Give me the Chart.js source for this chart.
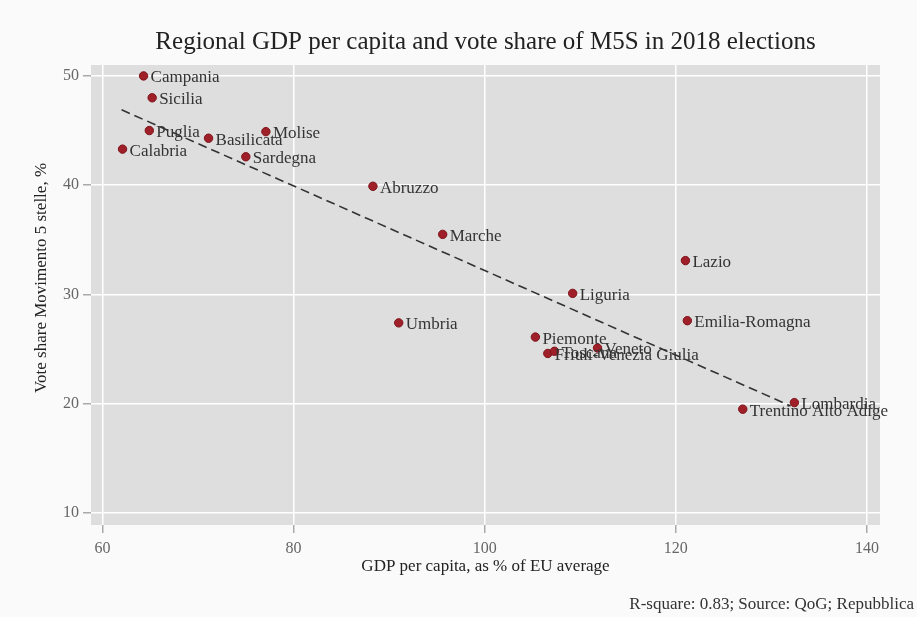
<!DOCTYPE html>
<html lang="en">
<head>
  <meta charset="UTF-8">
  <title>Regional GDP per capita and vote share of M5S</title>
  <script src="https://cdn.jsdelivr.net/npm/chart.js"></script>
  <style>
    html, body { margin: 0; padding: 0; background: #fafafa; }
    .chart-container { width: 917px; height: 617px; }
  </style>
</head>
<body>
  <div class="chart-container">
    <canvas id="scatterChart"></canvas>
  </div>

  <script>
    // data
    const regions = ['Campania', 'Sicilia', 'Puglia', 'Calabria', 'Basilicata', 'Molise', 'Sardegna',
      'Abruzzo', 'Marche', 'Umbria', 'Lazio', 'Liguria', 'Emilia-Romagna', 'Piemonte',
      'Friuli-Venezia Giulia', 'Toscana', 'Veneto', 'Lombardia', 'Trentino Alto Adige'];
    const gdp = [64.3, 65.2, 64.9, 62.1, 71.1, 77.1, 75.0,
      88.3, 95.6, 91.0, 121.0, 109.2, 121.2, 105.3,
      106.6, 107.3, 111.8, 132.4, 127.0];
    const voteShare = [50.0, 48.0, 45.0, 43.3, 44.3, 44.9, 42.6,
      39.9, 35.5, 27.4, 33.1, 30.1, 27.6, 26.1,
      24.6, 24.8, 25.1, 20.1, 19.5];
    // fitted line end points
    const trendX = [62.0, 132.0];
    const trendY = [46.9, 19.8];
    const xTicks = [60, 80, 100, 120, 140];
    const yTicks = [10, 20, 30, 40, 50];

    const serif = "'Liberation Serif', 'DejaVu Serif', serif";

    const plotBackground = {
      id: 'plotBackground',
      beforeDraw(chart) {
        const { ctx, chartArea } = chart;
        ctx.save();
        ctx.fillStyle = '#dedede';
        ctx.fillRect(chartArea.left, chartArea.top, chartArea.right - chartArea.left, chartArea.bottom - chartArea.top);
        ctx.restore();
      }
    };

    const pointLabels = {
      id: 'pointLabels',
      afterDatasetsDraw(chart) {
        const { ctx } = chart;
        const meta = chart.getDatasetMeta(1);
        ctx.save();
        ctx.font = '17px ' + serif;
        ctx.fillStyle = '#333';
        ctx.textBaseline = 'middle';
        meta.data.forEach((pt, i) => {
          ctx.fillText(regions[i], pt.x + 7, pt.y + 2);
        });
        ctx.restore();
      }
    };

    const texts = {
      id: 'texts',
      afterDraw(chart) {
        const { ctx, chartArea } = chart;
        ctx.save();
        ctx.fillStyle = '#222';
        ctx.textAlign = 'center';
        ctx.textBaseline = 'middle';
        ctx.font = '25px ' + serif;
        ctx.fillText('Regional GDP per capita and vote share of M5S in 2018 elections', (chartArea.left + chartArea.right) / 2, 42);

        // y axis title
        ctx.save();
        ctx.translate(42, 278);
        ctx.rotate(-Math.PI / 2);
        ctx.font = '17px ' + serif;
        ctx.fillText('Vote share Movimento 5 stelle, %', 0, 0);
        ctx.restore();

        ctx.font = '17px ' + serif;
        ctx.textAlign = 'right';
        ctx.fillStyle = '#333';
        ctx.fillText('R-square: 0.83; Source: QoG; Repubblica', 914, 605);
        ctx.restore();
      }
    };

    const points = gdp.map((x, i) => ({ x: x, y: voteShare[i] }));
    const trend = trendX.map((x, i) => ({ x: x, y: trendY[i] }));

    const ctx = document.getElementById('scatterChart').getContext('2d');
    const chart = new Chart(ctx, {
      type: 'scatter',
      data: {
        datasets: [{
          type: 'line',
          data: trend,
          borderColor: '#333',
          borderWidth: 1.6,
          borderDash: [9, 5],
          pointRadius: 0,
          fill: false
        }, {
          data: points,
          backgroundColor: '#a0202a',
          borderColor: '#7d1218',
          borderWidth: 1,
          pointRadius: 4.2
        }]
      },
      options: {
        responsive: true,
        maintainAspectRatio: false,
        animation: false,
        layout: { padding: { top: 65, right: 37, bottom: 40, left: 0 } },
        plugins: {
          legend: { display: false },
          tooltip: { enabled: false }
        },
        scales: {
          x: {
            type: 'linear',
            min: 58.8,
            max: 141.36,
            afterFit(scale) { scale.height = 52; },
            afterBuildTicks(scale) { scale.ticks = xTicks.map(v => ({ value: v })); },
            grid: { color: '#ffffff', lineWidth: 1.5, tickColor: '#aaa', tickLength: 8 },
            border: { display: false },
            ticks: { color: '#666', font: { family: serif, size: 16 }, padding: 6 },
            title: {
              display: true,
              text: 'GDP per capita, as % of EU average',
              color: '#222',
              font: { family: serif, size: 17 },
              padding: { top: 0, bottom: 0 }
            }
          },
          y: {
            type: 'linear',
            min: 8.9,
            max: 51.0,
            afterFit(scale) { scale.width = 91; },
            afterBuildTicks(scale) { scale.ticks = yTicks.map(v => ({ value: v })); },
            grid: { color: '#ffffff', lineWidth: 1.5, tickColor: '#aaa', tickLength: 8 },
            border: { display: false },
            ticks: { color: '#666', font: { family: serif, size: 16 }, padding: 4 }
          }
        }
      },
      plugins: [plotBackground, pointLabels, texts]
    });
  </script>
</body>
</html>
